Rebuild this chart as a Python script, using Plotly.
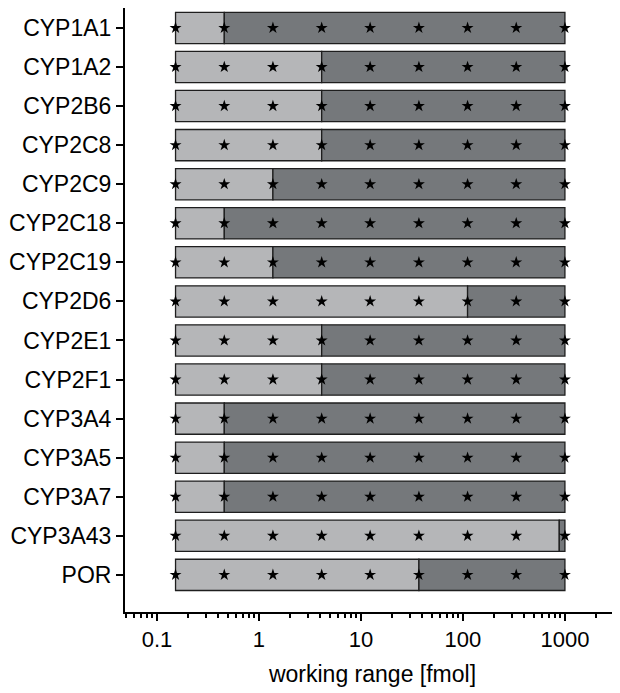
import plotly.graph_objects as go

# ---- data ----
categories = ["CYP1A1", "CYP1A2", "CYP2B6", "CYP2C8", "CYP2C9", "CYP2C18", "CYP2C19",
              "CYP2D6", "CYP2E1", "CYP2F1", "CYP3A4", "CYP3A5", "CYP3A7", "CYP3A43", "POR"]
range_start = [0.152] * 15
range_break = [0.457, 4.12, 4.12, 4.12, 1.37, 0.457, 1.37,
               111, 4.12, 4.12, 0.457, 0.457, 0.457, 880, 37.0]
range_end = [1000] * 15
dilution_points = [0.152, 0.457, 1.37, 4.12, 12.3, 37.0, 111, 333, 1000]
x_tickvals = [0.1, 1, 10, 100, 1000]
x_ticktext = ["0.1", "1", "10", "100", "1000"]

LIGHT = "#b5b6b8"
DARK = "#75787b"
EDGE = "#1e1e1e"
FONT = "Liberation Sans, Arial, sans-serif"

fig = go.Figure()
fig.add_trace(go.Bar(
    y=categories, x=[b - s for s, b in zip(range_start, range_break)], base=range_start,
    orientation="h", marker=dict(color=LIGHT, line=dict(color=EDGE, width=1.3)),
    width=0.8, showlegend=False))
fig.add_trace(go.Bar(
    y=categories, x=[e - b for b, e in zip(range_break, range_end)], base=range_break,
    orientation="h", marker=dict(color=DARK, line=dict(color=EDGE, width=1.3)),
    width=0.8, showlegend=False))

sx, sy = [], []
for c in categories:
    for d in dilution_points:
        sx.append(d)
        sy.append(c)
fig.add_trace(go.Scatter(x=sx, y=sy, mode="markers",
                         marker=dict(symbol="star", size=9, color="black", line=dict(width=0)),
                         showlegend=False, cliponaxis=False))

# page has an 8px body margin, so the figure is 612x685 placed at (8, 8)
fig.update_layout(
    width=612, height=685, barmode="overlay",
    margin=dict(l=117, r=0, t=0, b=81),
    plot_bgcolor="white", paper_bgcolor="white",
    font=dict(family=FONT, size=22, color="black"),
    xaxis=dict(type="log", range=[-1.3137, 3.54], tickvals=x_tickvals, ticktext=x_ticktext,
               tickfont=dict(size=22),
               showline=True, linecolor="black", linewidth=2, ticks="outside",
               ticklen=7, tickwidth=2, tickcolor="black", showgrid=False, zeroline=False,
               title=dict(text="working range [fmol]", standoff=14, font=dict(size=23)),
               minor=dict(ticks="outside", ticklen=4, tickwidth=1.5, tickcolor="black",
                          dtick="D1", showgrid=False)),
    yaxis=dict(categoryorder="array", categoryarray=categories,
               range=[14.95, -0.51], showline=True, linecolor="black", linewidth=2,
               tickfont=dict(size=23),
               ticks="outside", ticklen=7, tickwidth=1.5, tickcolor="black",
               showgrid=False, zeroline=False),
)
fig.write_html("out.html")
